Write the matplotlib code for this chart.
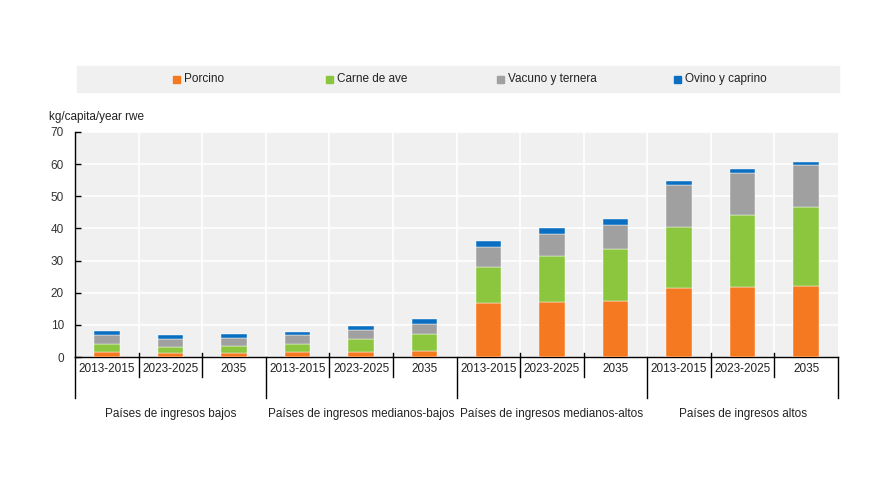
import matplotlib.pyplot as plt
from matplotlib.patches import Rectangle
import numpy as np

plt.rcParams['font.family'] = ['Liberation Sans', 'DejaVu Sans']

# --- data ---
periods = ["2013-2015", "2023-2025", "2035"] * 4
groups = ["Países de ingresos bajos", "Países de ingresos medianos-bajos",
          "Países de ingresos medianos-altos", "Países de ingresos altos"]

series_names = ["Porcino", "Carne de ave", "Vacuno y ternera", "Ovino y caprino"]
colors = ["#F47920", "#8CC63F", "#A0A0A0", "#0A6FC2"]

porcino = [1.6, 1.1, 1.2, 1.6, 1.7, 2.0, 16.9, 17.2, 17.5, 21.6, 21.9, 22.2]
ave = [2.4, 2.0, 2.3, 2.4, 3.9, 5.2, 11.2, 14.2, 16.2, 18.9, 22.3, 24.5]
vacuno = [2.7, 2.4, 2.3, 2.7, 2.7, 3.0, 6.2, 7.0, 7.3, 13.1, 13.1, 13.0]
ovino = [1.4, 1.3, 1.5, 1.0, 1.3, 1.5, 1.7, 1.8, 1.8, 1.0, 1.1, 1.0]

yticks = [0, 10, 20, 30, 40, 50, 60, 70]

BG = '#F0F0F0'

fig = plt.figure(figsize=(8.75, 5), dpi=100)
ax = fig.add_axes([75 / 875, 1 - 357 / 500, 763 / 875, 225 / 500])
ax.set_facecolor(BG)

x = np.arange(len(periods))
bottom = np.zeros(len(periods))
for vals, col in zip([porcino, ave, vacuno, ovino], colors):
    ax.bar(x, vals, width=0.4, bottom=bottom, color=col, edgecolor='white',
           linewidth=0.3, zorder=3)
    bottom += np.array(vals)

ax.set_xlim(-0.5, len(periods) - 0.5)
ax.set_ylim(0, 70)
ax.set_yticks(yticks)
ax.tick_params(axis='y', direction='in', length=4, width=1, pad=8,
               labelsize=8.5, colors='#333333')
ax.tick_params(axis='y', color='black')
ax.set_xticks([])

# white grid
for yv in yticks[1:]:
    ax.axhline(yv, color='white', lw=1.2, zorder=1)
for b in x[:-1] + 0.5:
    ax.axvline(b, color='white', lw=1.2, zorder=1)

for s in ['top', 'right']:
    ax.spines[s].set_visible(False)
ax.spines['left'].set_color('black')
ax.spines['bottom'].set_color('black')
ax.spines['left'].set_linewidth(1)
ax.spines['bottom'].set_linewidth(1)

# axis scale in pixels for things drawn below the axes
trans = ax.get_xaxis_transform()
px = 1 / 225  # one pixel in axes-fraction of height

# period labels and separators
for i, p in enumerate(periods):
    ax.text(i, -11.7 * px, p, transform=trans, ha='center', va='center',
            fontsize=8.5, color='#222222')
for i in range(len(periods) + 1):
    b = i - 0.5
    if i % 3 == 0:
        ax.plot([b, b], [0, -41 * px], transform=trans, color='black',
                lw=1, clip_on=False, zorder=5)
    else:
        ax.plot([b, b], [4 * px, -20 * px], transform=trans, color='black',
                lw=1, clip_on=False, zorder=5)

for g, name in enumerate(groups):
    ax.text(3 * g + 1, -57 * px, name, transform=trans, ha='center',
            va='center', fontsize=8.5, color='#222222')

fig.text(49 / 875, 1 - 117 / 500, "kg/capita/year rwe", ha='left',
         va='center', fontsize=8.5, color='#222222')

# legend bar
fig.patches.append(Rectangle((77 / 875, 1 - 92 / 500), 762 / 875, 26 / 500,
                             transform=fig.transFigure, color=BG, zorder=0))
leg_x = [173, 326, 497, 674]
for lx, name, col in zip(leg_x, series_names, colors):
    fig.patches.append(Rectangle((lx / 875, 1 - 82.5 / 500), 7 / 875, 7 / 500,
                                 transform=fig.transFigure, color=col))
    fig.text((lx + 11) / 875, 1 - 79 / 500, name, ha='left', va='center',
             fontsize=8.5, color='#222222')

fig.savefig('out.png', dpi=100)
